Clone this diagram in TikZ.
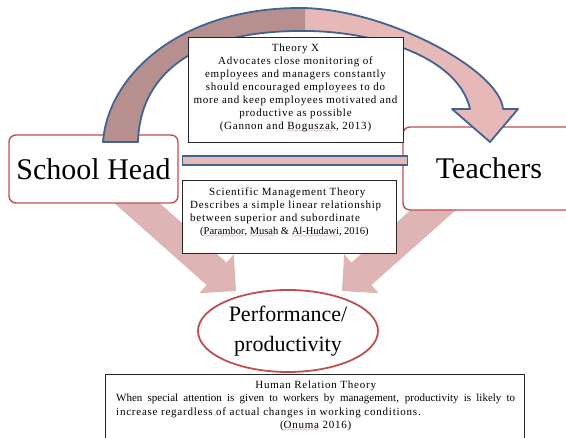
\documentclass[tikz,border=0pt]{standalone}
\usepackage{fontspec}
\setmainfont{Liberation Serif}
\newfontfamily\spacedserif{Liberation Serif}[LetterSpace=7]
\usetikzlibrary{shapes.geometric,calc}

\definecolor{boxred}{RGB}{192,80,77}
\definecolor{arcblue}{RGB}{66,99,145}
\definecolor{arcdark}{RGB}{184,143,143}
\definecolor{arcpink}{RGB}{230,185,184}
\definecolor{flowpink}{RGB}{222,180,180}
\definecolor{squigred}{RGB}{215,45,45}

% wavy red underline for unfamiliar names
\font\wavefont=lasy6
\newcommand\squiggle[1]{\setbox0\hbox{#1}%
  \rlap{\textcolor{squigred}{\lower3.2pt\hbox to\wd0{\leaders\hbox{\wavefont\char58}\hfill}}}\box0\relax}
\newcommand\notefont{\spacedserif\fontsize{11}{13}\selectfont}

% outline of the curved arrow from School Head to Teachers
\newcommand\overarc{(103,142) .. controls (108,75) and (180,8) .. (300,8)
  .. controls (385,8) and (500,70) .. (503,109) -- (518,109) -- (490,142)
  -- (452,109) -- (470,109) .. controls (458,55) and (370,30) .. (300,31)
  .. controls (200,31) and (140,70) .. (138,142) -- cycle}

\begin{document}
\begin{tikzpicture}[x=1pt,y=-1pt,
  actor/.style={draw=boxred,line width=1.4pt,fill=white,rounded corners=7pt,
    inner sep=0pt,font=\fontsize{30}{36}\selectfont},
  notebox/.style={draw=black!85,line width=0.9pt,fill=white,inner sep=0pt},
  notetext/.style={inner sep=0pt,font=\notefont},
  outcome/.style={ellipse,draw=boxred,line width=1.8pt,fill=white,inner sep=0pt,
    align=center,font=\fontsize{22}{30}\selectfont},
  link/.style={draw=arcblue,line width=1.4pt,fill=arcpink}]

\useasboundingbox (0,0) rectangle (566,438);

% broad arrows feeding performance
\fill[flowpink] (236,291) -- (233.8,254.3) -- (226.5,262.5) -- (126.3,173.6)
  -- (106.3,196.0) -- (206.6,285.0) -- (199.3,293.2) -- cycle;
\fill[flowpink] (342,291) -- (344.2,254.3) -- (351.5,262.5) -- (451.7,173.6)
  -- (471.7,196.0) -- (371.4,285.0) -- (378.7,293.2) -- cycle;

% the two actors
\node[actor,minimum width=169pt,minimum height=68pt] (shead) at (93.5,169) {School Head};
\node[actor,minimum width=172pt,minimum height=83pt] (teachers) at (489,168.5) {Teachers};

% curved arrow over the top, darker on its rising side
\fill[arcpink] \overarc;
\begin{scope}
  \clip (0,0) rectangle (305,150);
  \fill[arcdark] \overarc;
\end{scope}
\draw[arcblue,line width=1.8pt,line join=round] \overarc;

% Theory X
\node[notebox,minimum width=215pt,minimum height=105pt] (theoryx) at (295.5,89.5) {};
\node[notetext,align=center,anchor=north] (theoryxtext) at (295.5,41.9)
  {\strut Theory X\\Advocates close monitoring of\\employees and managers constantly\\
   should encouraged employees to do\\more and keep employees motivated and\\
   productive as possible\\(Gannon and \squiggle{Boguszak}, 2013)};

% horizontal link between the actors
\draw[link] ($(shead.east)+(4,-13)$) rectangle ($(teachers.west)+(5,-3.5)$);

% Scientific Management
\node[notebox,minimum width=214pt,minimum height=73pt] (scientific) at (289,216.5) {};
\node[notetext,align=left,anchor=north west] (scientifictext) at (190,185.9)
  {\strut\hspace*{19pt}Scientific Management Theory\\Describes a simple linear relationship\\
   between superior and subordinate\\
   \hspace*{10pt}{\rmfamily\fontsize{10.5}{13}\selectfont(\squiggle{Parambor}, \squiggle{Musah} \& \squiggle{Al-Hudawi}, 2016)}};

% outcome
\node[outcome,minimum width=180pt,minimum height=82pt] (perf) at (288,331) {Performance/\\productivity};

% Human Relation
\node[notebox,minimum width=419pt,minimum height=76pt] (human) at (314.5,412) {};
\node[notetext,align=left,anchor=north west,font=\spacedserif\fontsize{11}{13.3}\selectfont] (humantext) at (116,378.9)
  {\strut\makebox[399pt][c]{Human Relation Theory}\\
   \makebox[399pt][s]{\rmfamily When special attention is given to workers by management, productivity is likely to}\\
   increase regardless of actual changes in working conditions.\\
   \makebox[399pt][c]{(\squiggle{Onuma} 2016)}};

\end{tikzpicture}
\end{document}
